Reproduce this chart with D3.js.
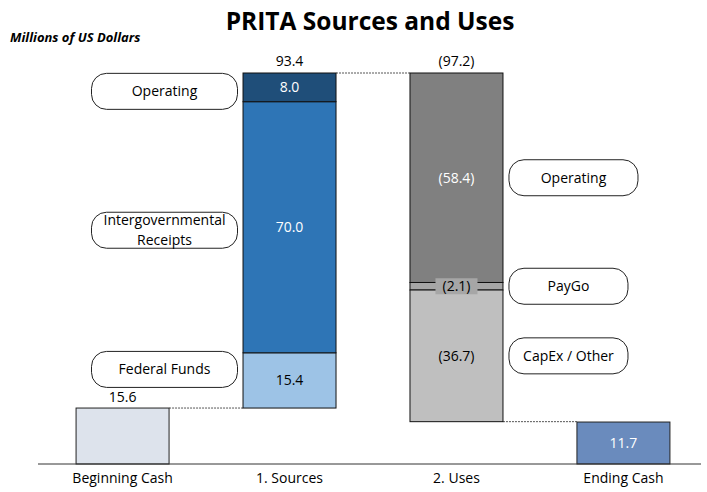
<!DOCTYPE html>
<html>
<head>
<meta charset="utf-8">
<script src="https://cdn.jsdelivr.net/npm/d3@7"></script>
<style>
  body { margin: 0; background: #fff; }
  svg text { font-family: "Open Sans", "Noto Sans", sans-serif; }
</style>
</head>
<body>
<div id="chart"></div>
<script>
/* PRITA sources and uses waterfall */

const categories = ['Beginning Cash', '1. Sources', '2. Uses', 'Ending Cash'];
const beginningCash = 15.6;
const sourceNames = ['Federal Funds', 'Intergovernmental\nReceipts', 'Operating'];
const sourceValues = [15.4, 70.0, 8.0];
const useNames = ['Operating', 'PayGo', 'CapEx / Other'];
const useValues = [58.4, 2.1, 36.7];
const endingCash = 11.7;

const sourceColors = ['#9dc3e6', '#2e75b6', '#1f4e79'];
const sourceText = ['#000', '#fff', '#fff'];
const useColors = ['#808080', '#a6a6a6', '#bfbfbf'];
const useText = ['#fff', '#000', '#000'];
// small vertical nudges for the callout boxes (px)
const sourceNudge = [-11, 3, 4];

const W = 707, H = 492;
const margin = { top: 73, right: 0, bottom: 28, left: 39 };
const base = H - margin.bottom;
const FS = 14;

const svg = d3.select('#chart').append('svg')
  .attr('width', W).attr('height', H);

const x = d3.scaleBand()
  .domain(categories)
  .range([margin.left, W])
  .paddingInner(0.443)
  .paddingOuter(0.222);

const topTotal = beginningCash + d3.sum(sourceValues);
const y = d3.scaleLinear()
  .domain([0, topTotal])
  .range([base, margin.top]);

const fmt = (v) => v.toFixed(1);
const fmtNeg = (v) => `(${v.toFixed(1)})`;

// connectors
const conn = svg.append('g')
  .attr('stroke', '#555').attr('stroke-width', 1)
  .attr('stroke-dasharray', '2,1');
const usesBottom = topTotal - d3.sum(useValues);
conn.append('line')
  .attr('x1', x(categories[0]) + x.bandwidth()).attr('x2', x(categories[1]))
  .attr('y1', y(beginningCash)).attr('y2', y(beginningCash));
conn.append('line')
  .attr('x1', x(categories[1]) + x.bandwidth()).attr('x2', x(categories[2]))
  .attr('y1', y(topTotal)).attr('y2', y(topTotal));
conn.append('line')
  .attr('x1', x(categories[2]) + x.bandwidth()).attr('x2', x(categories[3]))
  .attr('y1', y(usesBottom)).attr('y2', y(usesBottom));

// beginning cash
svg.append('rect')
  .attr('x', x(categories[0])).attr('width', x.bandwidth())
  .attr('y', y(beginningCash)).attr('height', base - y(beginningCash))
  .attr('fill', '#dde3ec').attr('stroke', '#222').attr('stroke-width', 1);
svg.append('text')
  .attr('x', x(categories[0]) + x.bandwidth() / 2)
  .attr('y', y(beginningCash) - 6)
  .attr('text-anchor', 'middle').attr('font-size', FS).attr('fill', '#000')
  .text(fmt(beginningCash));

// sources stack
let acc = beginningCash;
const srcSegs = sourceValues.map((v, i) => {
  const s = { name: sourceNames[i], v, y0: acc, y1: acc + v, i };
  acc += v;
  return s;
});
const sx = x(categories[1]);
svg.append('g').selectAll('rect').data(srcSegs).join('rect')
  .attr('x', sx).attr('width', x.bandwidth())
  .attr('y', (d) => y(d.y1)).attr('height', (d) => y(d.y0) - y(d.y1))
  .attr('fill', (d) => sourceColors[d.i])
  .attr('stroke', '#111').attr('stroke-width', 1);
svg.append('g').selectAll('text').data(srcSegs).join('text')
  .attr('x', sx + x.bandwidth() / 2)
  .attr('y', (d) => (y(d.y0) + y(d.y1)) / 2 + 5)
  .attr('text-anchor', 'middle').attr('font-size', FS)
  .attr('fill', (d) => sourceText[d.i])
  .text((d) => fmt(d.v));
svg.append('text')
  .attr('x', sx + x.bandwidth() / 2).attr('y', y(topTotal) - 7)
  .attr('text-anchor', 'middle').attr('font-size', FS).attr('fill', '#000')
  .text(fmt(d3.sum(sourceValues)));

// uses stack (hangs from the top)
acc = topTotal;
const useSegs = useValues.map((v, i) => {
  const s = { name: useNames[i], v, y0: acc - v, y1: acc, i };
  acc -= v;
  return s;
});
const ux = x(categories[2]);
svg.append('g').selectAll('rect').data(useSegs).join('rect')
  .attr('x', ux).attr('width', x.bandwidth())
  .attr('y', (d) => y(d.y1)).attr('height', (d) => y(d.y0) - y(d.y1))
  .attr('fill', (d) => useColors[d.i])
  .attr('stroke', '#111').attr('stroke-width', 1);
const useLab = svg.append('g').selectAll('g').data(useSegs).join('g')
  .attr('transform', (d) => `translate(${ux + x.bandwidth() / 2},${(y(d.y0) + y(d.y1)) / 2})`);
useLab.filter((d) => y(d.y0) - y(d.y1) < 16).append('rect')
  .attr('x', -21).attr('y', -8).attr('width', 42).attr('height', 16)
  .attr('fill', '#a6a6a6');
useLab.append('text')
  .attr('y', 5)
  .attr('text-anchor', 'middle').attr('font-size', FS)
  .attr('fill', (d) => useText[d.i])
  .text((d) => fmtNeg(d.v));
svg.append('text')
  .attr('x', ux + x.bandwidth() / 2).attr('y', y(topTotal) - 7)
  .attr('text-anchor', 'middle').attr('font-size', FS).attr('fill', '#000')
  .text(fmtNeg(d3.sum(useValues)));

// ending cash
const ex = x(categories[3]);
svg.append('rect')
  .attr('x', ex).attr('width', x.bandwidth())
  .attr('y', y(endingCash)).attr('height', base - y(endingCash))
  .attr('fill', '#6a8bbd').attr('stroke', '#222').attr('stroke-width', 1);
svg.append('text')
  .attr('x', ex + x.bandwidth() / 2)
  .attr('y', (y(endingCash) + base) / 2 + 5)
  .attr('text-anchor', 'middle').attr('font-size', FS).attr('fill', '#fff')
  .text(fmt(endingCash));

// callouts
function callout(cx, cy, w, label) {
  const h = 36;
  const g = svg.append('g').attr('transform', `translate(${cx},${cy})`);
  g.append('rect')
    .attr('x', -w / 2).attr('y', -h / 2).attr('width', w).attr('height', h)
    .attr('rx', 15).attr('ry', 15)
    .attr('fill', '#fff').attr('stroke', '#222').attr('stroke-width', 1);
  const lines = label.split('\n');
  lines.forEach((ln, k) => {
    g.append('text')
      .attr('y', 5 + (k - (lines.length - 1) / 2) * 19.5)
      .attr('text-anchor', 'middle').attr('font-size', FS).attr('fill', '#000')
      .text(ln);
  });
}
srcSegs.forEach((d) => {
  callout(164.5, (y(d.y0) + y(d.y1)) / 2 + sourceNudge[d.i], 146, d.name);
});
useSegs.forEach((d) => {
  const w = d.name === 'Operating' ? 129 : 119;
  callout(ux + x.bandwidth() + 6 + w / 2, (y(d.y0) + y(d.y1)) / 2, w, d.name);
});

// axis
const axis = svg.append('g')
  .attr('transform', `translate(0,${base})`)
  .call(d3.axisBottom(x).tickSize(0).tickPadding(9));
axis.select('.domain').attr('d', `M${margin.left - 1},0H${W - 6}`).attr('stroke', '#333');
axis.selectAll('text')
  .attr('font-size', FS).attr('fill', '#000')
  .attr('font-family', '"Open Sans", "Noto Sans", sans-serif');

// titles
svg.append('text')
  .attr('x', 370).attr('y', 30)
  .attr('text-anchor', 'middle').attr('font-size', 24.5).attr('font-weight', 'bold')
  .attr('fill', '#000')
  .text('PRITA Sources and Uses');
svg.append('text')
  .attr('x', 10).attr('y', 42)
  .attr('font-size', 13).attr('font-weight', 'bold').attr('font-style', 'italic')
  .attr('fill', '#000')
  .text('Millions of US Dollars');
</script>
</body>
</html>
